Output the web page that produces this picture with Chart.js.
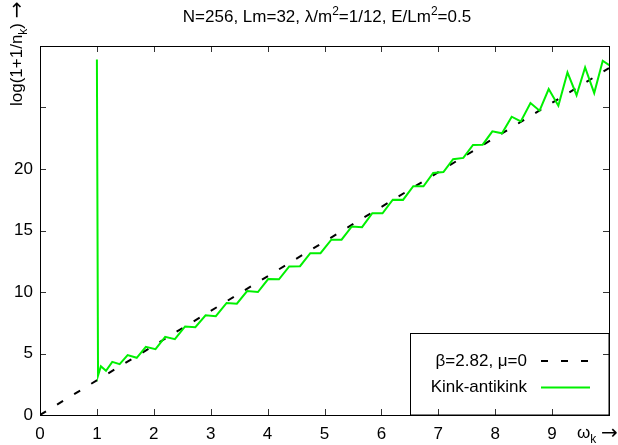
<!DOCTYPE html>
<html>
<head>
<meta charset="utf-8">
<script src="https://cdn.jsdelivr.net/npm/chart.js@4.4.0/dist/chart.umd.min.js"></script>
<style>
  html, body { margin: 0; padding: 0; background: #fff; }
</style>
</head>
<body>
<canvas id="kinkChart" width="618" height="445"></canvas>
<script>
// omega_k values of the modes and log(1+1/n_k)
const omegaK = [1.00, 1.02, 1.07, 1.16, 1.27, 1.40, 1.54, 1.70, 1.86, 2.03,
  2.20, 2.37, 2.55, 2.73, 2.91, 3.09, 3.28, 3.46, 3.64, 3.83,
  4.01, 4.20, 4.38, 4.57, 4.75, 4.93, 5.12, 5.30, 5.48, 5.66,
  5.84, 6.02, 6.20, 6.38, 6.56, 6.74, 6.91, 7.09, 7.26, 7.44,
  7.61, 7.78, 7.95, 8.12, 8.29, 8.45, 8.62, 8.78, 8.94, 9.11,
  9.27, 9.43, 9.58, 9.74, 9.89, 10.05];
const logInvN = [28.9, 3.2, 3.97, 3.6, 4.32, 4.13, 4.87, 4.65, 5.54, 5.35,
  6.35, 6.16, 7.2, 7.14, 8.11, 8.03, 9.11, 9.05, 10.08, 10.0,
  11.05, 11.03, 12.08, 12.1, 13.16, 13.16, 14.25, 14.25, 15.33, 15.27,
  16.4, 16.4, 17.5, 17.49, 18.6, 18.6, 19.68, 19.75, 20.8, 20.9,
  21.95, 21.98, 23.06, 22.9, 24.25, 23.87, 25.36, 24.74, 26.5, 25.14,
  27.85, 26.0, 28.25, 26.17, 28.8, 28.3];

// Bose-Einstein line, beta = 2.82, mu = 0
const fitX = [0, 10];
const fitY = [0, 28.2];

const xTicks = [0, 1, 2, 3, 4, 5, 6, 7, 8, 9, 10];
const yTicks = [0, 5, 10, 15, 20, 25, 30];
const xLabelMax = 9;
const yLabelMax = 20;

const FONT = "'Liberation Sans', Arial, Helvetica, sans-serif";
const ARROW_FONT = "'DejaVu Sans', sans-serif";
const FS = 17;

function font(size, fam) { return size + "px " + (fam || FONT); }

// draw text made of pieces, some raised or lowered
function drawRich(ctx, parts, x, y, align) {
  let total = 0;
  parts.forEach(p => {
    ctx.font = font(p.size || FS, p.fam);
    p.w = ctx.measureText(p.t).width;
    total += p.w;
  });
  let cx = x;
  if (align === "center") cx = x - total / 2;
  if (align === "right") cx = x - total;
  ctx.textAlign = "left";
  ctx.textBaseline = "alphabetic";
  parts.forEach(p => {
    ctx.font = font(p.size || FS, p.fam);
    ctx.fillText(p.t, cx, y + (p.dy || 0));
    cx += p.w;
  });
}

const frame = {
  id: "frame",
  afterDatasetsDraw(chart) {
    const ctx = chart.ctx;
    const a = chart.chartArea;
    const sx = chart.scales.x, sy = chart.scales.y;
    ctx.save();
    ctx.fillStyle = "#000";

    // tick marks, inside, on all four sides
    ctx.strokeStyle = "#333";
    ctx.lineWidth = 1;
    ctx.beginPath();
    xTicks.forEach(v => {
      const px = Math.round(sx.getPixelForValue(v)) + 0.5;
      ctx.moveTo(px, a.bottom); ctx.lineTo(px, a.bottom - 6);
      ctx.moveTo(px, a.top); ctx.lineTo(px, a.top + 6);
    });
    yTicks.forEach(v => {
      const py = Math.round(sy.getPixelForValue(v)) + 0.5;
      ctx.moveTo(a.left, py); ctx.lineTo(a.left + 6, py);
      ctx.moveTo(a.right, py); ctx.lineTo(a.right - 6, py);
    });
    ctx.stroke();

    // border
    ctx.strokeStyle = "#000";
    ctx.strokeRect(Math.round(a.left) + 0.5, Math.round(a.top) + 0.5,
      Math.round(a.right - a.left), Math.round(a.bottom - a.top));

    // key box
    const kx = 410.5, ky = 333.5;
    ctx.strokeRect(kx, ky, a.right - kx, a.bottom - ky);
    const ds = chart.data.datasets;
    ctx.font = font(FS);
    ctx.textAlign = "right";
    ctx.textBaseline = "middle";
    ctx.fillText(ds[0].label, 527, 361);
    ctx.fillText(ds[1].label, 527, 387);
    ctx.lineWidth = 2;
    ctx.strokeStyle = ds[0].borderColor;
    ctx.setLineDash(ds[0].borderDash);
    ctx.beginPath(); ctx.moveTo(541, 361); ctx.lineTo(592, 361); ctx.stroke();
    ctx.setLineDash([]);
    ctx.strokeStyle = ds[1].borderColor;
    ctx.beginPath(); ctx.moveTo(541, 387.5); ctx.lineTo(590, 387.5); ctx.stroke();

    // title
    drawRich(ctx, [
      { t: "N=256, Lm=32, λ/m" },
      { t: "2", size: 12, dy: -7 },
      { t: "=1/12, E/Lm" },
      { t: "2", size: 12, dy: -7 },
      { t: "=0.5" }
    ], 327, 22, "center");

    // x axis title
    drawRich(ctx, [
      { t: "ω" },
      { t: "k", size: 12, dy: 5 },
      { t: " " },
      { t: "→", size: 20, fam: ARROW_FONT, dy: 1 }
    ], 577, 438, "left");

    // y axis title
    ctx.translate(22, 106);
    ctx.rotate(-Math.PI / 2);
    drawRich(ctx, [
      { t: "log(1+1/n" },
      { t: "k", size: 12, dy: 5 },
      { t: ") " },
      { t: "→", size: 20, fam: ARROW_FONT, dy: 1 }
    ], 0, 0, "left");
    ctx.restore();
  }
};

const kinkPoints = omegaK.map((w, i) => ({ x: w, y: logInvN[i] }));
const fitPoints = fitX.map((w, i) => ({ x: w, y: fitY[i] }));

new Chart(document.getElementById("kinkChart").getContext("2d"), {
  type: "line",
  data: {
    datasets: [{
      label: "β=2.82, μ=0",
      data: fitPoints,
      borderColor: "#000000",
      borderDash: [7, 13],
      borderWidth: 2,
      pointRadius: 0,
      order: 1
    }, {
      label: "Kink-antikink",
      data: kinkPoints,
      borderColor: "#00f000",
      borderWidth: 2,
      pointRadius: 0,
      tension: 0,
      clip: 0,
      order: 0
    }]
  },
  options: {
    responsive: false,
    animation: false,
    layout: { padding: { top: 46, right: 7, left: 0, bottom: 0 } },
    plugins: {
      legend: { display: false },
      tooltip: { enabled: false },
      title: { display: false }
    },
    scales: {
      x: {
        type: "linear",
        min: 0,
        max: 10,
        grid: { display: false, drawTicks: false },
        border: { display: false },
        afterBuildTicks: s => { s.ticks = xTicks.map(v => ({ value: v })); },
        afterFit: s => { s.height = 30; },
        ticks: {
          color: "#000",
          padding: 9,
          maxRotation: 0,
          font: { family: FONT, size: FS },
          callback: v => (v <= xLabelMax ? v : "")
        }
      },
      y: {
        type: "linear",
        min: 0,
        max: 30,
        grid: { display: false, drawTicks: false },
        border: { display: false },
        afterBuildTicks: s => { s.ticks = yTicks.map(v => ({ value: v })); },
        afterFit: s => { s.width = 40; },
        ticks: {
          color: "#000",
          padding: 7,
          font: { family: FONT, size: FS },
          callback: v => (v <= yLabelMax ? v : "")
        }
      }
    }
  },
  plugins: [frame]
});
</script>
</body>
</html>
